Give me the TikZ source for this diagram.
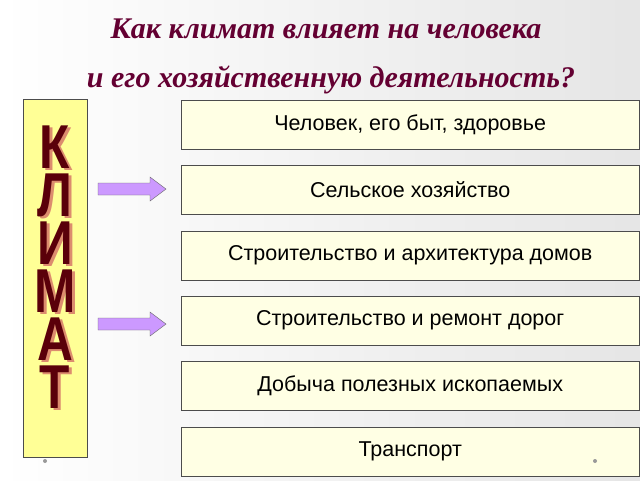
\documentclass[tikz,border=0pt]{standalone}
\usepackage{fontspec}
\setmainfont{Liberation Sans}
\newfontfamily\titlefont{Liberation Serif}
\begin{document}
\begin{tikzpicture}[x=1pt,y=-1pt,
  item/.style={draw=black!70,fill={rgb,255:red,255;green,255;blue,228},minimum width=458pt,minimum height=49pt,anchor=north west,inner sep=0pt,font=\fontsize{21.5}{24}\selectfont},
  arr/.style={draw=black!60,fill={rgb,255:red,204;green,153;blue,255}},
  lett/.style={font=\fontsize{62}{62}\bfseries\selectfont,xscale=0.8,inner sep=0pt,text={rgb,255:red,90;green,0;blue,10}},
  shad/.style={font=\fontsize{62}{62}\bfseries\selectfont,xscale=0.8,inner sep=0pt,text={rgb,255:red,220;green,140;blue,110}},
  ttl/.style={font=\titlefont\fontsize{30}{32}\bfseries\itshape\selectfont,text={rgb,255:red,100;green,0;blue,50}}]
\shade[left color=white,right color=black!10] (0,0) rectangle (640,480);
\useasboundingbox (0,0) rectangle (640,480);
\node[ttl] (t1) at (326,29) {Как климат влияет  на человека};
\node[ttl] (t2) at (331,80) {и его хозяйственную деятельность?};
\node[draw=black!70,fill={rgb,255:red,255;green,255;blue,150},minimum width=64pt,minimum height=358pt,anchor=north west,inner sep=0pt] (bar) at (23,99) {};
\foreach \l [count=\i] in {К,Л,И,М,А,Т}{
  \node[shad] at (58,{101+\i*48}) {\l};
  \node[lett] (l\i) at (55,{99+\i*48}) {\l};
}
\node[item] (b1) at (181,100) {Человек, его быт, здоровье};
\node[item] (b2) at (181,165) {Сельское хозяйство};
\node[item] (b3) at (181,231) {Строительство  и архитектура домов};
\node[item] (b4) at (181,296) {Строительство и ремонт дорог};
\node[item] (b5) at (181,361) {Добыча полезных ископаемых};
\node[item] (b6) at (181,427) {Транспорт};
\foreach \y in {189,324}{
  \draw[arr] (98,\y-6) -- (150,\y-6) -- (150,\y-12) -- (166,\y) -- (150,\y+12) -- (150,\y+6) -- (98,\y+6) -- cycle;
}
\fill[black!40] (45,461) circle (2pt) (595,461) circle (2pt);
\end{tikzpicture}
\end{document}
